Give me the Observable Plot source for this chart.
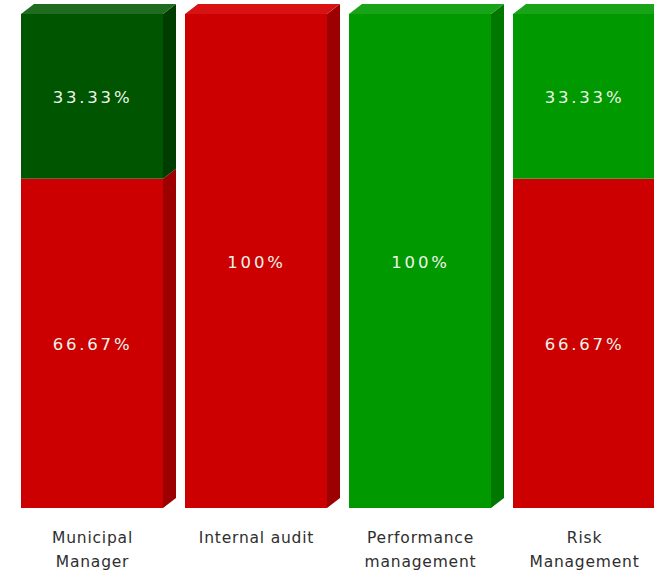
<!DOCTYPE html>
<html><head><meta charset="utf-8">
<script src="https://cdn.jsdelivr.net/npm/d3@7"></script>
<script src="https://cdn.jsdelivr.net/npm/@observablehq/plot@0.6"></script>
<style>
body{margin:0;background:#fff;overflow:hidden}
</style>
</head><body><div id="chart"></div>
<script>
const categories = ["Municipal Manager","Internal audit","Performance management","Risk Management"];
const tickLabels = ["Municipal\nManager","Internal audit","Performance\nmanagement","Risk\nManagement"];
const seriesNames = ["Not achieved","Achieved","Exceeded"];
const notAchieved = [66.67, 100, 0, 66.67];
const achieved = [0, 0, 100, 33.33];
const exceeded = [33.33, 0, 0, 0];
const frontColors = ["#cc0000","#009900","#005500"];
const sideColors = ["#9c0000","#007800","#003d00"];
const topColors = ["#d81212","#19a319","#1f6b1f"];

const seriesValues = [notAchieved, achieved, exceeded];
const rows = [];
categories.forEach((cat, i) => {
  let base = 0;
  seriesValues.forEach((vals, s) => {
    const v = vals[i];
    if (v > 0) {
      rows.push({cat, series: seriesNames[s], value: v, y1: base, y2: base + v, s});
      base += v;
    }
  });
});
const totals = categories.map(cat => d3.max(rows.filter(r => r.cat === cat), r => r.y2));
rows.forEach(r => r.isTop = r.y2 === totals[categories.indexOf(r.cat)]);
const tops = rows.filter(r => r.isTop);

const DX = 13, DY = 10, BW = 142;

const chart = Plot.plot({
  width: 654,
  height: 573,
  marginBottom: 65,
  style: {fontFamily: "DejaVu Sans, Verdana, sans-serif", background: "#fff"},
  x: {domain: categories, range: [21, 656], paddingInner: 0.134, paddingOuter: 0, label: null},
  y: {domain: [0, 100], range: [508, 14], axis: null},
  marks: [
    Plot.barY(rows, {x: "cat", y1: "y1", y2: "y2", fill: d => frontColors[d.s]}),
    Plot.barY(rows, {x: "cat", y1: "y1", y2: "y2", fill: d => sideColors[d.s], dx: BW, insetRight: BW - DX}),
    Plot.barY(tops, {x: "cat", y1: "y2", y2: "y2", fill: d => topColors[d.s], insetTop: -DY}),
    Plot.text(rows, {x: "cat", y: d => (d.y1 + d.y2) / 2, text: d => (Math.round(d.value * 100) / 100) + "%", fill: "#eef4ea", fontSize: 16.5, dy: 1}),
    Plot.axisX({tickSize: 0, tickPadding: 17, fontSize: 15.5, lineHeight: 1.55, lineAnchor: "top", fill: "#2e2e2e", tickFormat: d => tickLabels[categories.indexOf(d)], label: null})
  ]
});
document.getElementById("chart").appendChild(chart);

const svg = d3.select(chart);
const barGroups = svg.selectAll('g[aria-label="bar"]').nodes();
const sideG = barGroups[1], topG = barGroups[2];
const angY = Math.atan(-DY / DX) * 180 / Math.PI;
d3.select(sideG).selectAll("rect").each(function() {
  const r = d3.select(this);
  const x = +r.attr("x");
  r.attr("transform", `translate(${x},0) skewY(${angY}) translate(${-x},0)`);
});
const angX = Math.atan(-DX / DY) * 180 / Math.PI;
d3.select(topG).selectAll("rect").each(function() {
  const r = d3.select(this);
  const yb = +r.attr("y") + +r.attr("height");
  r.attr("transform", `translate(0,${yb}) skewX(${angX}) translate(0,${-yb})`);
});
svg.selectAll("text").each(function() {
  const t = this.textContent || "";
  this.style.letterSpacing = t.includes("%") ? "2.8px" : "0.8px";
});
</script>
</body></html>
